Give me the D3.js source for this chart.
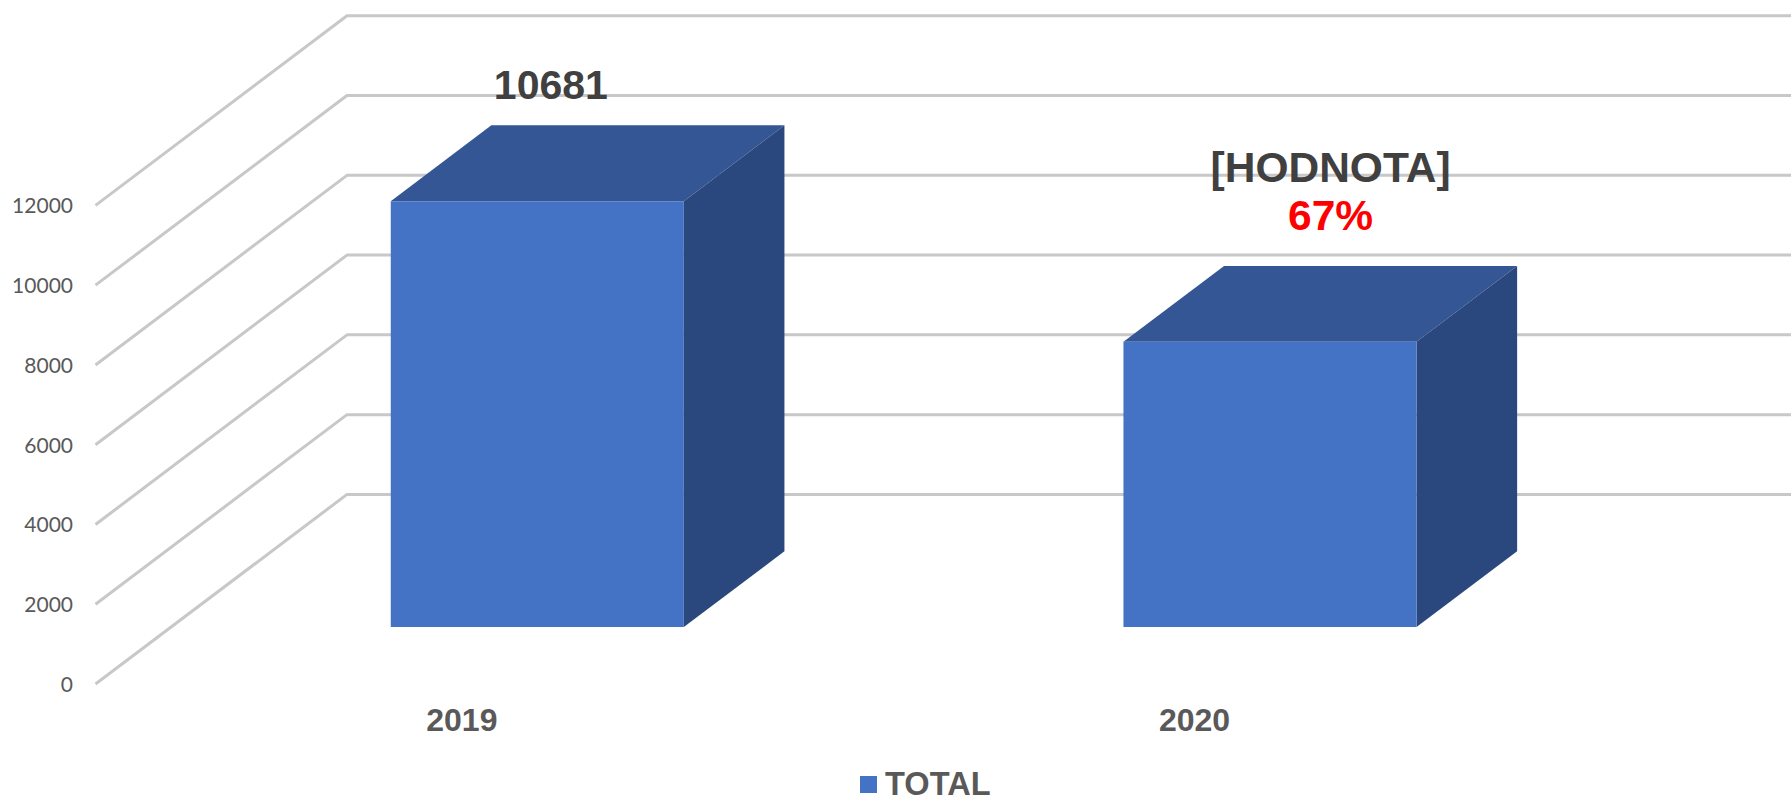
<!DOCTYPE html>
<html>
<head>
<meta charset="utf-8">
<script src="https://cdn.jsdelivr.net/npm/d3@7"></script>
<style>
  html, body { margin: 0; background: #fff; overflow: hidden; }
  svg { display: block; }
</style>
</head>
<body>
<div id="chart"></div>
<script>
const categories = ['2019', '2020']
const totals = [10681, 7156]
const valueLabels = [['10681'], ['[HODNOTA]', '67%']]
const yTicks = [0, 2000, 4000, 6000, 8000, 10000, 12000]
const seriesName = 'TOTAL'

const width = 1791
const height = 798

const svg = d3.select('#chart')
  .append('svg')
  .attr('width', width)
  .attr('height', height)

// front edge of the value axis
const y = d3.scaleLinear().domain([0, 12000]).range([684, 205.4])

// 3D depth: 0 = front of the floor, 1 = back wall
const depthX = d3.scaleLinear().domain([0, 1]).range([0, 251.5])
const depthY = d3.scaleLinear().domain([0, 1]).range([0, -189.6])

const axisX = 95.5
const barDepth = [0.3, 0.7]

// band scale runs along the front edge of the floor
const x = d3.scaleBand()
  .domain(categories)
  .range([axisX, axisX + 1465.4])
  .paddingInner(0.6)
  .paddingOuter(0.3)

const pt = (px, value, depth) => [px + depthX(depth), y(value) + depthY(depth)]
const line = d3.line()

// gridlines
const grid = svg.append('g').attr('class', 'grid')

grid.selectAll('path')
  .data(yTicks)
  .join('path')
  .attr('d', d => line([pt(axisX, d, 0), pt(axisX, d, 1), [width + 5, y(d) + depthY(1)]]))
  .attr('fill', 'none')
  .attr('stroke', '#c8c8c8')
  .attr('stroke-width', 3)
  .attr('stroke-linejoin', 'round')

// y axis labels
svg.append('g')
  .selectAll('text')
  .data(yTicks)
  .join('text')
  .attr('x', 73)
  .attr('y', d => y(d) + 0.5)
  .attr('dy', '0.35em')
  .attr('text-anchor', 'end')
  .attr('fill', '#595959')
  .attr('font-family', 'Lato, sans-serif')
  .attr('font-size', '21px')
  .text(d => d)

// bars
const barData = categories.map((c, i) => ({ name: c, value: totals[i], labels: valueLabels[i] }))

const bars = svg.append('g')
  .selectAll('g')
  .data(barData)
  .join('g')
  .attr('class', 'bar')

const [d0, d1] = barDepth

function frontFace(d) {
  const l = x(d.name)
  const r = l + x.bandwidth()
  return [pt(l, 0, d0), pt(r, 0, d0), pt(r, d.value, d0), pt(l, d.value, d0)]
}

function topFace(d) {
  const l = x(d.name)
  const r = l + x.bandwidth()
  return [pt(l, d.value, d0), pt(r, d.value, d0), pt(r, d.value, d1), pt(l, d.value, d1)]
}

function sideFace(d) {
  const r = x(d.name) + x.bandwidth()
  return [pt(r, 0, d0), pt(r, 0, d1), pt(r, d.value, d1), pt(r, d.value, d0)]
}

bars.append('path')
  .attr('d', d => line(topFace(d)) + 'Z')
  .attr('fill', '#345694')

bars.append('path')
  .attr('d', d => line(sideFace(d)) + 'Z')
  .attr('fill', '#2a487d')

bars.append('path')
  .attr('d', d => line(frontFace(d)) + 'Z')
  .attr('fill', '#4472c4')

// value labels were dragged by hand in the original, so they get their own offsets
const labelShift = [89, 136]
const labelBase = [99, 182]

bars.each(function (d, i) {
  const g = d3.select(this)
  const cx = x(d.name) + x.bandwidth() / 2 + labelShift[i]
  d.labels.forEach((t, k) => {
    g.append('text')
      .attr('x', cx)
      .attr('y', labelBase[i] + k * 48)
      .attr('text-anchor', 'middle')
      .attr('font-family', '"Liberation Sans", Arial, sans-serif')
      .attr('font-weight', 'bold')
      .attr('font-size', i === 0 ? '41px' : '42.5px')
      .attr('fill', k === 0 ? '#404040' : '#ff0000')
      .text(t)
  })
})

// category labels sit on the front edge of the floor
svg.append('g')
  .selectAll('text')
  .data(categories)
  .join('text')
  .attr('x', d => x(d) + x.bandwidth() / 2)
  .attr('y', 731)
  .attr('text-anchor', 'middle')
  .attr('font-family', '"Liberation Sans", Arial, sans-serif')
  .attr('font-weight', 'bold')
  .attr('font-size', '32px')
  .attr('fill', '#595959')
  .text(d => d)

// legend
const legend = svg.append('g').attr('class', 'legend')

legend.append('rect')
  .attr('x', 860)
  .attr('y', 776)
  .attr('width', 17)
  .attr('height', 17)
  .attr('fill', '#4472c4')

legend.append('text')
  .attr('x', 885)
  .attr('y', 795)
  .attr('font-family', '"Liberation Sans", Arial, sans-serif')
  .attr('font-weight', 'bold')
  .attr('font-size', '32.6px')
  .attr('fill', '#595959')
  .text(seriesName)
</script>
</body>
</html>
